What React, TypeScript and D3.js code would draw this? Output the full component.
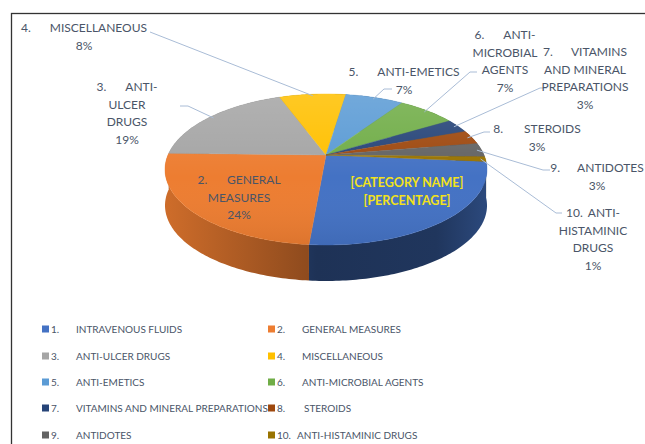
import React from "react";
import * as d3 from "d3";

const categories = [
  "INTRAVENOUS FLUIDS",
  "GENERAL MEASURES",
  "ANTI-ULCER DRUGS",
  "MISCELLANEOUS",
  "ANTI-EMETICS",
  "ANTI-MICROBIAL AGENTS",
  "VITAMINS AND MINERAL PREPARATIONS",
  "STEROIDS",
  "ANTIDOTES",
  "ANTI-HISTAMINIC DRUGS",
];
const values = [25, 24, 19, 8, 7, 7, 3, 3, 3, 1];
const colors = [
  "#4472C4", "#ED7D31", "#A5A5A5", "#FFC000", "#5B9BD5",
  "#70AD47", "#264478", "#9E480E", "#636363", "#997300",
];

// label layout (line breaks of the data labels, positions)
const labelLines: string[][] = [
  ["[CATEGORY NAME]", "[PERCENTAGE]"],
  ["GENERAL", "MEASURES"],
  ["ANTI-", "ULCER", "DRUGS"],
  ["MISCELLANEOUS"],
  ["ANTI-EMETICS"],
  ["ANTI-", "MICROBIAL", "AGENTS"],
  ["VITAMINS", "AND MINERAL", "PREPARATIONS"],
  ["STEROIDS"],
  ["ANTIDOTES"],
  ["ANTI-", "HISTAMINIC", "DRUGS"],
];
const labelPos = [
  { x: 407, y: 183, gap: 0 },
  { x: 239, y: 180, gap: 20 },
  { x: 127, y: 87, gap: 19 },
  { x: 84, y: 28, gap: 19 },
  { x: 404, y: 72, gap: 19 },
  { x: 505, y: 35, gap: 19 },
  { x: 585, y: 52, gap: 19 },
  { x: 537, y: 129, gap: 21 },
  { x: 597, y: 168, gap: 17 },
  { x: 593, y: 213, gap: 5 },
];
// leader line starting points (label side): [x0, y0, x1, y1]
const leaderStart: (number[] | null)[] = [
  null,
  null,
  [180, 106, 188, 106],
  [150, 32, 150, 32],
  [392, 89, 384, 89],
  [477, 72, 470, 72],
  [547, 88, 540, 88],
  [490, 132, 484, 132],
  [550, 170, 543, 170],
  [562, 213, 556, 213],
];

const W = 645, H = 444;
const CX = 326, CY = 155, RX = 158, RY = 72.7, K = 0.192, DEPTH = 36;
const START = (95 * Math.PI) / 180;
const TEXT = "#4a5568";
const FONT = "Lato, 'Open Sans', sans-serif";

const proj = (a: number, r = 1, dz = 0): [number, number] => {
  const u = r * Math.sin(a), v = r * Math.cos(a);
  const w = 1 + K * v;
  return [CX + (RX * u) / w, CY - (RY * v) / w + dz];
};

const arcPts = (a0: number, a1: number, dz = 0) => {
  const n = Math.max(2, Math.ceil(((a1 - a0) * 180) / Math.PI));
  const pts: [number, number][] = [];
  for (let i = 0; i <= n; i++) pts.push(proj(a0 + ((a1 - a0) * i) / n, 1, dz));
  return pts;
};

export default function App() {
  const arcs = d3.pie<number>().sort(null).startAngle(START).endAngle(START + 2 * Math.PI)(values);
  const line = d3.line();
  const sides = arcs
    .map((a, i) => ({ a, i }))
    .sort((p, q) => Math.cos((q.a.startAngle + q.a.endAngle) / 2) < Math.cos((p.a.startAngle + p.a.endAngle) / 2) ? -1 : 1);

  const fullTop = line(arcPts(0, 2 * Math.PI))! + "Z";

  return (
    <svg width={W} height={H} style={{ position: "absolute", left: 0, top: 0, background: "#fff" }} fontFamily={FONT}>
      <defs>
        {colors.map((c, i) => {
          const deep = i === 0 ? 2.3 : 1.5;
          return (
            <linearGradient key={i} id={`side${i}`} gradientUnits="userSpaceOnUse" x1={CX - RX} x2={CX + RX} y1={0} y2={0}>
              <stop offset="0" stopColor={d3.color(c)!.darker(0.4).formatHex()} />
              <stop offset="0.47" stopColor={d3.color(c)!.darker(deep).formatHex()} />
              <stop offset="0.85" stopColor={d3.color(c)!.darker(deep - 0.2).formatHex()} />
              <stop offset="1" stopColor={d3.color(c)!.darker(deep - 1).formatHex()} />
            </linearGradient>
          );
        })}
        <linearGradient id="topShade" x1="0" x2="0" y1="0" y2="1">
          <stop offset="0" stopColor="#fff" stopOpacity={0.14} />
          <stop offset="0.55" stopColor="#fff" stopOpacity={0} />
          <stop offset="1" stopColor="#000" stopOpacity={0.07} />
        </linearGradient>
      </defs>
      <rect x={11.5} y={13.5} width={W + 20} height={H + 20} fill="#fff" stroke="#333" strokeWidth={1.3} />

      {sides.map(({ a, i }) => {
        const top = arcPts(a.startAngle, a.endAngle, 0);
        const bot = arcPts(a.startAngle, a.endAngle, DEPTH).reverse();
        return <path key={`s${i}`} d={line([...top, ...bot])! + "Z"} fill={`url(#side${i})`} />;
      })}

      {arcs.map((a, i) => (
        <path
          key={`t${i}`}
          d={line([[CX, CY], ...arcPts(a.startAngle, a.endAngle, 0)])! + "Z"}
          fill={colors[i]}
          stroke={colors[i]}
          strokeWidth={0.4}
        />
      ))}
      <path d={fullTop} fill="url(#topShade)" />

      {arcs.map((a, i) => {
        const s = leaderStart[i];
        if (!s) return null;
        const mid = (a.startAngle + a.endAngle) / 2;
        const end = proj(mid, 0.97);
        return (
          <polyline
            key={`l${i}`}
            points={`${s[0]},${s[1]} ${s[2]},${s[3]} ${end[0]},${end[1]}`}
            fill="none"
            stroke="#a9bcd6"
            strokeWidth={1}
          />
        );
      })}

      {arcs.map((a, i) => {
        const p = labelPos[i];
        const lines = labelLines[i];
        const fs = 12;
        const lh = 17.4;
        const isFirst = i === 0;
        const pct = `${values[i]}%`;
        const rows: React.ReactNode[] = [];
        if (isFirst) {
          lines.forEach((ln, j) =>
            rows.push(
              <text key={j} x={p.x} y={p.y + j * lh + fs * 0.36} textAnchor="middle" fontSize={12.5} fontWeight="bold" fill="#f2e21a">
                {ln}
              </text>
            )
          );
        } else {
          lines.forEach((ln, j) =>
            rows.push(
              <text key={j} x={p.x} y={p.y + j * lh + fs * 0.36} textAnchor="middle" fontSize={fs} fill={TEXT}>
                {j === 0 ? (
                  <>
                    <tspan>{`${i + 1}.`}</tspan>
                    <tspan dx={p.gap}>{ln}</tspan>
                  </>
                ) : (
                  ln
                )}
              </text>
            )
          );
          rows.push(
            <text key="p" x={p.x} y={p.y + lines.length * lh + fs * 0.36} textAnchor="middle" fontSize={fs} fill={TEXT}>
              {pct}
            </text>
          );
        }
        return <g key={`lab${i}`}>{rows}</g>;
      })}

      {categories.map((c, i) => {
        const col = i % 2;
        const row = Math.floor(i / 2);
        const ys = [329, 356, 382, 408, 435];
        const sx = col === 0 ? 42 : 268;
        const y = ys[row];
        const nameX = i === 9 ? sx + 29 : i === 7 ? sx + 36 : sx + 34;
        return (
          <g key={`lg${i}`} fontSize={10} fill={TEXT}>
            <rect x={sx} y={y - 3.5} width={7} height={7} fill={colors[i]} />
            <text x={sx + 9} y={y + 3.6}>{`${i + 1}.`}</text>
            <text x={nameX} y={y + 3.6}>{c}</text>
          </g>
        );
      })}
    </svg>
  );
}
